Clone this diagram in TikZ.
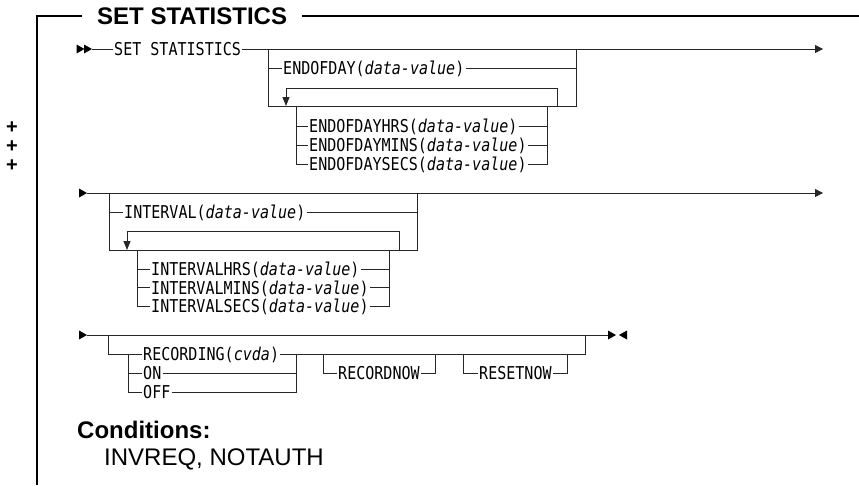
\documentclass[tikz,border=0pt]{standalone}
\usepackage{fontspec}
\setmainfont{Liberation Sans}
\newfontfamily\railfont[FakeStretch=0.85]{DejaVu Sans Mono}
\usetikzlibrary{arrows.meta}

\tikzset{
  rtri/.pic={\fill[black] (0,0) -- (-8,-4.5) -- (-8,4.5) -- cycle;},
}

\begin{document}
\begin{tikzpicture}[x=1pt, y=-1pt,
    >={Triangle[width=8pt,length=8pt]},
    rail/.style={draw=black!85, line width=0.8pt},
    boxline/.style={draw=black, line width=1.3pt},
    kw/.style={font=\fontsize{17.7}{20}\railfont, inner sep=1pt, text height=13pt, text depth=0pt, anchor=west},
    marke/.style={font=\fontsize{20}{20}\selectfont\bfseries, inner sep=0pt, text height=11pt, text depth=0pt},
    titel/.style={font=\fontsize{24}{28}\selectfont\bfseries}]
  \useasboundingbox (0,0) rectangle (859,485);
  %Rahmen zeichnen
  \node[titel, anchor=west, inner xsep=15pt, inner ysep=0pt, text height=17pt, text depth=0pt] (ttl) at (82,16) {SET STATISTICS};
  \draw[boxline] (ttl.west) -- (37,16) -- (37,485);
  \draw[boxline] (ttl.east) -- (859,16);
  % Aenderungsmarken
  \foreach \y in {126,145,164} \node[marke] (plus\y) at (12,\y+1.5) {+};

  % Zeile 1
  \pic at (84.5,49) {rtri};
  \pic at (92,49) {rtri};
  \coordinate (s1) at (92,49);
  \coordinate (e1) at (823,49);
  \node[kw] (sst) at (113,49) {SET STATISTICS};
  \draw[rail] (s1) -- (sst.west);
  \draw[rail,->] (sst.east) -- (e1);
  % ENDOFDAY
  \coordinate (aL) at (268,49);
  \coordinate (aR) at (576,49);
  \coordinate (aBL) at (268,106);
  \coordinate (aBR) at (576,106);
  \node[kw] (eod) at (282,68) {ENDOFDAY(\textit{data-value})};
  \draw[rail] (aL) -- (aBL) -- (aBR) -- (aR);
  \draw[rail] (aL |- eod.west) -- (eod.west);
  \draw[rail] (eod.east) -- (aR |- eod.east);
  % Schleife
  \coordinate (lpR) at (557,106);
  \coordinate (lpA) at (286,106);
  \draw[rail,-{Triangle[width=7pt,length=9pt]}] (lpR) -- ++(0,-18) -| (lpA);
  \coordinate (iL) at (296,106);
  \coordinate (iR) at (547,106);
  \foreach \w/\y in {HRS/126,MINS/145,SECS/164}{
    \node[kw] (eod\w) at (308,\y) {ENDOFDAY\w(\textit{data-value})};
    \draw[rail] (iL) |- (eod\w.west);
    \draw[rail] (eod\w.east) -| (iR);
  }

  % Zeile 2
  \pic at (87,193) {rtri};
  \coordinate (s2) at (87,193);
  \coordinate (e2) at (823,193);
  \draw[rail,->] (s2) -- (e2);
  % INTERVAL
  \coordinate (bL) at (109,193);
  \coordinate (bR) at (417,193);
  \coordinate (bBL) at (109,250);
  \coordinate (bBR) at (417,250);
  \node[kw] (ivl) at (123,212) {INTERVAL(\textit{data-value})};
  \draw[rail] (bL) -- (bBL) -- (bBR) -- (bR);
  \draw[rail] (bL |- ivl.west) -- (ivl.west);
  \draw[rail] (ivl.east) -- (bR |- ivl.east);
  % Schleife
  \coordinate (lpR2) at (399,250);
  \coordinate (lpA2) at (127,250);
  \draw[rail,-{Triangle[width=7pt,length=9pt]}] (lpR2) -- ++(0,-19) -| (lpA2);
  \coordinate (jL) at (137,250);
  \coordinate (jR) at (389,250);
  \foreach \w/\y in {HRS/269,MINS/287.5,SECS/306}{
    \node[kw] (ivl\w) at (150,\y) {INTERVAL\w(\textit{data-value})};
    \draw[rail] (jL) |- (ivl\w.west);
    \draw[rail] (ivl\w.east) -| (jR);
  }

  % Zeile 3
  \pic at (87,335) {rtri};
  \coordinate (s3) at (87,335);
  \coordinate (e3) at (608,335);
  \draw[rail] (s3) -- (e3);
  \pic at (616,335) {rtri};
  \pic[rotate=180] at (619,335) {rtri};
  \coordinate (cL) at (108,335);
  \coordinate (cR) at (585,335);
  \coordinate (chL) at (128,354);
  \coordinate (chR) at (296,354);
  \node[kw] (rec) at (142,354) {RECORDING(\textit{cvda})};
  \node[kw] (recon) at (142,373) {ON};
  \node[kw] (recoff) at (142,392) {OFF};
  \draw[rail] (cL) |- (rec.west);
  \draw[rail] (chL) |- (recon.west);
  \draw[rail] (chL) |- (recoff.west);
  \draw[rail] (rec.east) -- (chR);
  \draw[rail] (recon.east) -| (chR);
  \draw[rail] (recoff.east) -| (chR);
  \draw[rail] (chR) -| (cR);
  % RECORDNOW
  \coordinate (dL) at (323,354);
  \coordinate (dR) at (435,354);
  \node[kw] (rnow) at (337,373) {RECORDNOW};
  \draw[rail] (dL) |- (rnow.west);
  \draw[rail] (rnow.east) -| (dR);
  % RESETNOW
  \coordinate (fL) at (463,354);
  \coordinate (fR) at (567,354);
  \node[kw] (rset) at (478,373) {RESETNOW};
  \draw[rail] (fL) |- (rset.west);
  \draw[rail] (rset.east) -| (fR);

  % Bedingungen
  \node[titel, anchor=base west, inner sep=0pt] (cnd) at (77,438) {Conditions:};
  \node[font=\fontsize{24}{28}\selectfont, anchor=base west, inner sep=0pt] (cndl) at (104,465) {INVREQ, NOTAUTH};
\end{tikzpicture}
\end{document}
